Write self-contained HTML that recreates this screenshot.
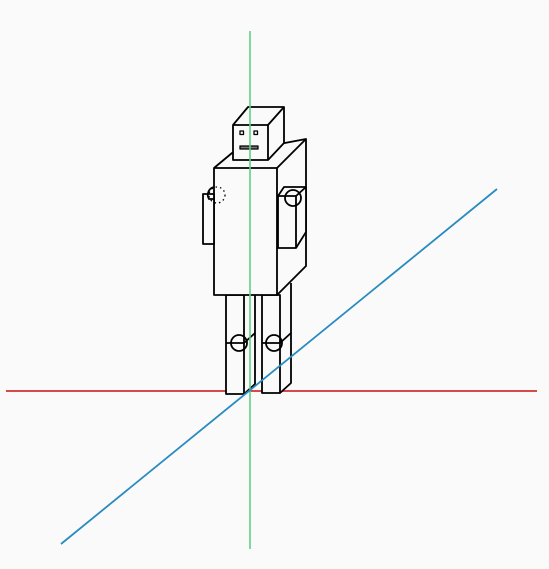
<!DOCTYPE html>
<html><head><meta charset="utf-8"><style>
html,body{margin:0;padding:0;background:#fafafa;}
svg{display:block;}
</style></head><body>
<svg width="549" height="569" viewBox="0 0 549 569">
<rect x="0" y="0" width="549" height="569" fill="#fafafa"/>
<line x1="6" y1="391" x2="537" y2="391" stroke="#d03030" stroke-width="1.8"/>
<g fill="none" stroke="#000" stroke-width="1.8" stroke-linejoin="round">
  <g>
    <polygon points="226,295 255,295 255,384 244,394 226,394" fill="#fafafa" stroke="none"/>
    <rect x="226" y="295" width="18" height="99"/>
    <polyline points="244,394 255,384 255,295"/>
    <polyline points="226,343 244,343 255,333"/>
    <circle cx="239" cy="343" r="8"/>
  </g>
  <g>
    <polygon points="262,295 291,283 291,383 280,393 262,393" fill="#fafafa" stroke="none"/>
    <rect x="262" y="295" width="18" height="98"/>
    <polyline points="280,393 291,383 291,283"/>
    <polyline points="262,343 280,343 291,333"/>
    <circle cx="274" cy="343" r="8"/>
  </g>
  <g>
    <polygon points="214,168 232,153 306,139 306,266 277,295 214,295" fill="#fafafa" stroke="none"/>
    <rect x="214" y="168" width="63" height="127"/>
    <polyline points="214,168 232,153 306,139 306,266 277,295"/>
    <line x1="277" y1="168" x2="306" y2="139"/>
  </g>
  <g>
    <rect x="203" y="194" width="11" height="50" fill="#fafafa"/>
    <path d="M214 187 A8 8 0 0 0 209 199 L214 199"/>
    <circle cx="217" cy="195" r="8" stroke-dasharray="1.5,3" stroke-width="1.3"/>
  </g>
  <g>
    <polygon points="278,196 284,187 306,187 306,232 296,248 278,248" fill="#fafafa" stroke="none"/>
    <rect x="278" y="196" width="18" height="52"/>
    <polyline points="278,196 284,187 306,187 306,232 296,248"/>
    <line x1="296" y1="196" x2="306" y2="187"/>
    <circle cx="293" cy="198" r="8"/>
  </g>
  <g>
    <polygon points="233,125 248,107 284,107 284,143 268,160 233,160" fill="#fafafa" stroke="none"/>
    <rect x="233" y="125" width="35" height="35"/>
    <polyline points="233,125 248,107 284,107 284,143 268,160"/>
    <line x1="268" y1="125" x2="284" y2="107"/>
    <rect x="240" y="131" width="3.5" height="3.5" stroke-width="1.3"/>
    <rect x="254" y="131" width="3.5" height="3.5" stroke-width="1.3"/>
    <rect x="240" y="146" width="18" height="3" fill="#777" stroke-width="1.3"/>
  </g>
</g>
<line x1="250" y1="31" x2="250" y2="549" stroke="#5fd08a" stroke-width="1.6"/>
<line x1="61" y1="544" x2="497" y2="189" stroke="#2a8bc0" stroke-width="1.8"/>
</svg>
</body></html>
